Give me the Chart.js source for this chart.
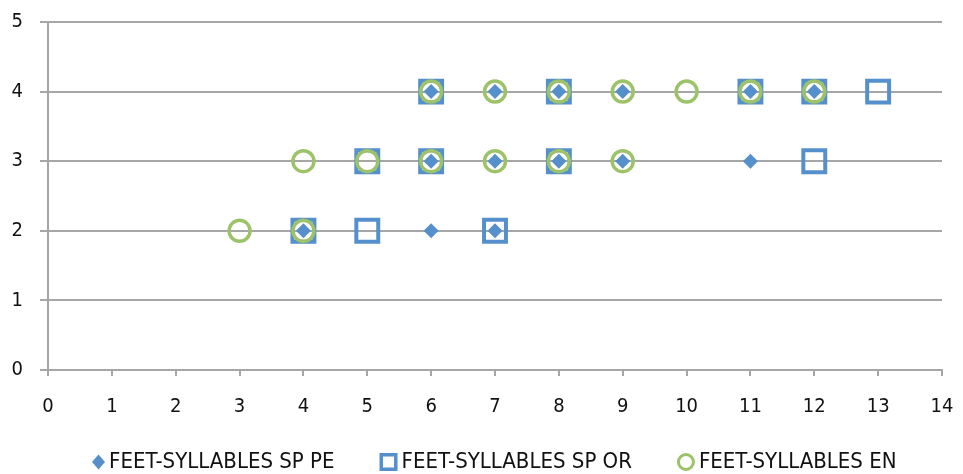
<!DOCTYPE html>
<html>
<head>
<meta charset="utf-8">
<script src="https://cdn.jsdelivr.net/npm/chart.js@4/dist/chart.umd.min.js"></script>
<style>
  html, body { margin: 0; padding: 0; background: #fff; }
  #wrap { width: 963px; height: 474px; position: relative; }
</style>
</head>
<body>
<div id="wrap"><canvas id="c" width="963" height="474"></canvas></div>
<script>
// Feet vs. syllables per line, three corpora
const seriesNames = ['FEET-SYLLABLES SP PE', 'FEET-SYLLABLES SP OR', 'FEET-SYLLABLES EN'];

const spPeX = [4, 6, 7, 6, 7, 8, 9, 11, 6, 7, 8, 9, 11, 12];
const spPeY = [2, 2, 2, 3, 3, 3, 3, 3, 4, 4, 4, 4, 4, 4];

const spOrX = [4, 5, 7, 5, 6, 8, 12, 6, 8, 11, 12, 13];
const spOrY = [2, 2, 2, 3, 3, 3, 3, 4, 4, 4, 4, 4];

const enX = [3, 4, 4, 5, 6, 7, 8, 9, 6, 7, 8, 9, 10, 11, 12];
const enY = [2, 2, 3, 3, 3, 3, 3, 3, 4, 4, 4, 4, 4, 4, 4];

const xTicks = [0, 1, 2, 3, 4, 5, 6, 7, 8, 9, 10, 11, 12, 13, 14];
const yTicks = [0, 1, 2, 3, 4, 5];

const BLUE = '#5590CC';
const GREEN = '#9DC36A';
const GRID = '#A6A6A6';
const TEXT = '#111';
const FONT = "'DejaVu Sans Condensed', 'Open Sans', sans-serif";
const TICK_SIZE = 20;
const LEGEND_SIZE = 22;

const toPoints = (xs, ys) => xs.map((x, i) => ({ x: x, y: ys[i] }));

// Legend drawn along the bottom, marker followed by its label
const bottomLegend = {
  id: 'bottomLegend',
  afterDraw(chart) {
    const ctx = chart.ctx;
    const y = 462;
    const gap = 4;       // marker edge to text
    const spacing = 45;  // text end to next marker
    ctx.save();
    ctx.font = LEGEND_SIZE + 'px ' + FONT;
    ctx.textBaseline = 'middle';
    ctx.textAlign = 'left';
    let x = 92;
    chart.data.datasets.forEach(ds => {
      const w = ds.pointStyle === 'rectRot' ? 13 : 18;
      const cx = x + w / 2;
      ctx.beginPath();
      if (ds.pointStyle === 'rectRot') {
        ctx.moveTo(cx, y - 7.5);
        ctx.lineTo(cx + 6.5, y);
        ctx.lineTo(cx, y + 7.5);
        ctx.lineTo(cx - 6.5, y);
        ctx.closePath();
        ctx.fillStyle = ds.backgroundColor;
        ctx.fill();
      } else if (ds.pointStyle === 'rect') {
        ctx.rect(cx - 7.25, y - 7.25, 14.5, 14.5);
        ctx.lineWidth = 3.5;
        ctx.strokeStyle = ds.borderColor;
        ctx.stroke();
      } else {
        ctx.arc(cx, y, 7.5, 0, Math.PI * 2);
        ctx.lineWidth = 3;
        ctx.strokeStyle = ds.borderColor;
        ctx.stroke();
      }
      ctx.fillStyle = TEXT;
      ctx.fillText(ds.label, x + w + gap, y);
      x += w + gap + ctx.measureText(ds.label).width + spacing;
    });
    ctx.restore();
  }
};

new Chart(document.getElementById('c'), {
  type: 'scatter',
  data: {
    datasets: [
      {
        label: seriesNames[0],
        data: toPoints(spPeX, spPeY),
        pointStyle: 'rectRot',
        pointRadius: 7.5,
        pointHoverRadius: 7.5,
        backgroundColor: BLUE,
        borderColor: BLUE,
        borderWidth: 0,
        order: 2
      },
      {
        label: seriesNames[1],
        data: toPoints(spOrX, spOrY),
        pointStyle: 'rect',
        pointRadius: 15.5,
        pointHoverRadius: 15.5,
        backgroundColor: 'rgba(255,255,255,0)',
        borderColor: BLUE,
        borderWidth: 4,
        order: 3
      },
      {
        label: seriesNames[2],
        data: toPoints(enX, enY),
        pointStyle: 'circle',
        pointRadius: 10.5,
        pointHoverRadius: 10.5,
        backgroundColor: 'rgba(255,255,255,0)',
        borderColor: GREEN,
        borderWidth: 3.5,
        order: 1
      }
    ]
  },
  options: {
    responsive: false,
    animation: false,
    layout: { padding: { top: 22, right: 21, left: 0, bottom: 54 } },
    scales: {
      x: {
        type: 'linear',
        min: 0,
        max: 14,
        afterBuildTicks: (s) => { s.ticks = xTicks.map(v => ({ value: v })); },
        afterFit: (s) => { s.height = 50; s.paddingLeft = 0; s.paddingRight = 0; },
        grid: {
          display: true,
          drawOnChartArea: false,
          drawTicks: true,
          tickLength: 6,
          color: GRID,
          lineWidth: 2
        },
        border: { display: true, color: GRID, width: 2 },
        ticks: {
          color: TEXT,
          font: { family: FONT, size: TICK_SIZE },
          padding: 19,
          maxRotation: 0
        }
      },
      y: {
        type: 'linear',
        min: 0,
        max: 5,
        afterBuildTicks: (s) => { s.ticks = yTicks.map(v => ({ value: v })); },
        afterFit: (s) => { s.width = 48; s.paddingTop = 0; s.paddingBottom = 0; },
        grid: {
          display: true,
          drawTicks: true,
          tickLength: 8,
          color: GRID,
          lineWidth: 2
        },
        border: { display: true, color: GRID, width: 2 },
        ticks: {
          color: TEXT,
          font: { family: FONT, size: TICK_SIZE },
          padding: 17
        }
      }
    },
    plugins: {
      tooltip: { enabled: false },
      legend: { display: false }
    }
  },
  plugins: [bottomLegend]
});
</script>
</body>
</html>
